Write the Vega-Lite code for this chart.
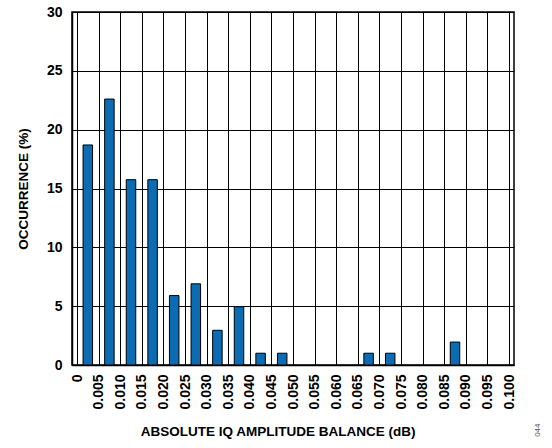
{
  "$schema": "https://vega.github.io/schema/vega-lite/v6.json",
  "width": 442,
  "height": 353,
  "autosize": {"type": "none"},
  "padding": {"left": 72, "top": 12, "right": 38, "bottom": 83},
  "background": "white",
  "config": {
    "font": "Liberation Sans",
    "view": {"stroke": "black", "strokeWidth": 1.5}
  },
  "title": {
    "text": "044",
    "orient": "right",
    "anchor": "end",
    "frame": "bounds",
    "angle": -90,
    "fontSize": 8,
    "fontWeight": "normal",
    "font": "Liberation Sans",
    "color": "#555555",
    "offset": 10,
    "dx": 14
  },
  "data": {
    "values": [
      {"balance": 0.0025, "occurrence": 18.7},
      {"balance": 0.0075, "occurrence": 22.6},
      {"balance": 0.0125, "occurrence": 15.75},
      {"balance": 0.0175, "occurrence": 15.75},
      {"balance": 0.0225, "occurrence": 5.9},
      {"balance": 0.0275, "occurrence": 6.9},
      {"balance": 0.0325, "occurrence": 2.95},
      {"balance": 0.0375, "occurrence": 4.95},
      {"balance": 0.0425, "occurrence": 1.0},
      {"balance": 0.0475, "occurrence": 1.0},
      {"balance": 0.0675, "occurrence": 1.0},
      {"balance": 0.0725, "occurrence": 1.0},
      {"balance": 0.0875, "occurrence": 1.95}
    ]
  },
  "mark": {"type": "bar", "width": 9.5, "color": "#0B6CB4", "stroke": "black", "strokeWidth": 1},
  "encoding": {
    "x": {
      "field": "balance",
      "type": "quantitative",
      "scale": {"domain": [0, 0.1], "nice": false, "zero": false},
      "axis": {
        "values": [0, 0.005, 0.01, 0.015, 0.02, 0.025, 0.03, 0.035, 0.04, 0.045, 0.05, 0.055, 0.06, 0.065, 0.07, 0.075, 0.08, 0.085, 0.09, 0.095, 0.1],
        "labelExpr": "datum.value == 0 ? '0' : format(datum.value, '.3f')",
        "labelAngle": -90,
        "labelFlush": false,
        "labelOverlap": false,
        "labelBound": false,
        "labelFont": "Liberation Sans",
        "labelFontWeight": "bold",
        "labelFontSize": 14,
        "labelColor": "black",
        "labelPadding": 9,
        "ticks": false,
        "grid": true,
        "gridColor": "black",
        "gridOpacity": 1,
        "gridWidth": 1,
        "domainColor": "black",
        "domainWidth": 1.5,
        "title": "ABSOLUTE IQ AMPLITUDE BALANCE (dB)",
        "titleFont": "Liberation Sans",
        "titleFontSize": 13.5,
        "titleFontWeight": "bold",
        "titleColor": "black",
        "titleX": 205.5,
        "titleY": 59
      }
    },
    "y": {
      "field": "occurrence",
      "type": "quantitative",
      "scale": {"domain": [0, 30], "nice": false},
      "axis": {
        "values": [0, 5, 10, 15, 20, 25, 30],
        "labelFont": "Liberation Sans",
        "labelFontWeight": "bold",
        "labelFontSize": 14,
        "labelColor": "black",
        "labelPadding": 10,
        "labelFlush": false,
        "ticks": false,
        "grid": true,
        "gridColor": "black",
        "gridOpacity": 1,
        "gridWidth": 1,
        "domainColor": "black",
        "domainWidth": 1.5,
        "title": "OCCURRENCE (%)",
        "titleFont": "Liberation Sans",
        "titleFontSize": 13.5,
        "titleFontWeight": "bold",
        "titleColor": "black",
        "titlePadding": 16
      }
    }
  }
}
